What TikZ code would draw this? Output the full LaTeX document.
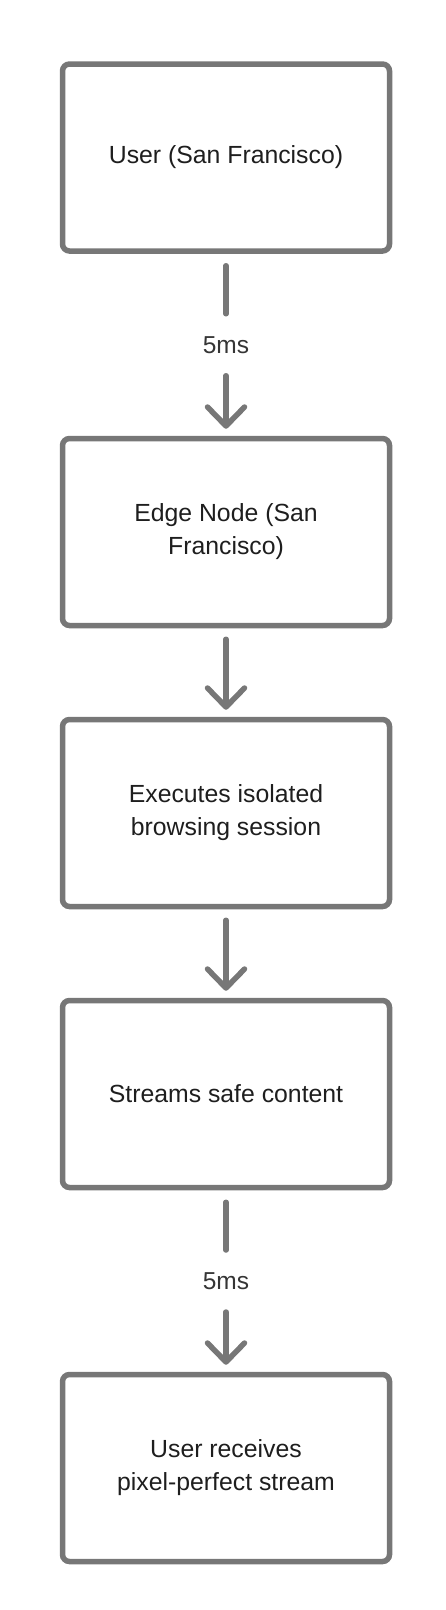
\documentclass[tikz,border=0pt]{standalone}
\usepackage{fontspec}
\setmainfont{Liberation Sans}
\usetikzlibrary{arrows.meta}
\definecolor{strokegray}{HTML}{777777}
\definecolor{textdark}{HTML}{1E1E1E}
\begin{document}
\begin{tikzpicture}[x=1pt,y=-1pt,
  stepbox/.style={draw=strokegray, line width=5.5pt, rounded corners=7pt,
    minimum width=327pt, minimum height=187pt, inner sep=0pt,
    align=center, text=textdark, font=\fontsize{24.8}{33}\selectfont},
  latlabel/.style={text=textdark!90, font=\fontsize{24.5}{30}\selectfont,
    minimum height=62pt, inner sep=0pt, outer sep=0pt},
  conn/.style={draw=strokegray, line width=5.5pt, line cap=round},
  arr/.style={conn, -{Straight Barb[length=19pt, width=37pt, round]}}
]
\useasboundingbox (0,0) rectangle (446,1610);
\node[stepbox] (b1) at (226,157.5) {User (San Francisco)};
\node[stepbox] (b2) at (226,532) {Edge Node (San\\Francisco)};
\node[stepbox] (b3) at (226,813) {Executes isolated\\browsing session};
\node[stepbox] (b4) at (226,1094) {Streams safe content};
\node[stepbox] (b5) at (226,1468) {User receives\\pixel-perfect stream};
\path (b1.south) -- node[latlabel] (l1) {5ms} (b2.north);
\path (b4.south) -- node[latlabel] (l2) {5ms} (b5.north);
\draw[conn, shorten <=12pt] (b1.south) -- (l1.north);
\draw[arr, shorten >=7pt] (l1.south) -- (b2.north);
\draw[arr, shorten <=11pt, shorten >=7pt] (b2.south) -- (b3.north);
\draw[arr, shorten <=11pt, shorten >=7pt] (b3.south) -- (b4.north);
\draw[conn, shorten <=12pt] (b4.south) -- (l2.north);
\draw[arr, shorten >=7pt] (l2.south) -- (b5.north);
\end{tikzpicture}
\end{document}
